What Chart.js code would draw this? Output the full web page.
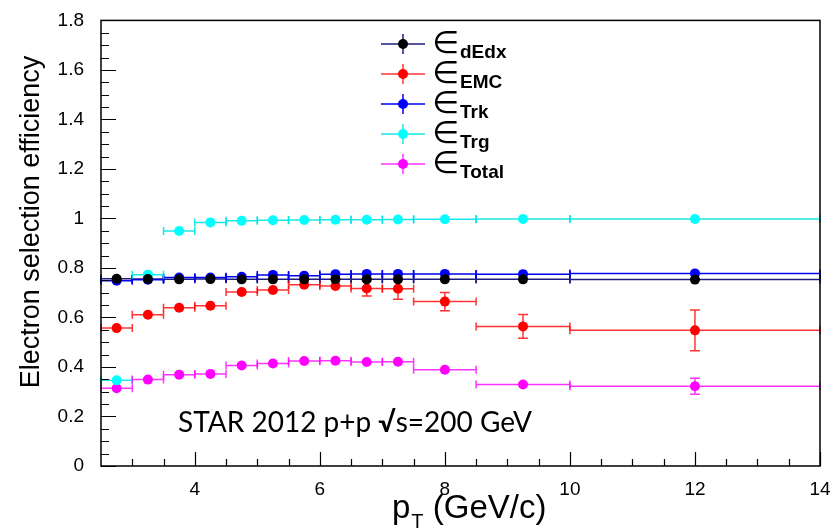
<!DOCTYPE html>
<html lang="en">
<head>
    <meta charset="UTF-8">
    <title>Electron selection efficiency</title>
    <script src="https://cdn.jsdelivr.net/npm/chart.js"></script>
    <style>
        body { margin: 0; background: white; }
        #effChart { display: block; }
    </style>
</head>
<body>
    <canvas id="effChart" width="840" height="531"></canvas>

    <script>
        // pT bins (GeV/c)
        const ptCenter = [2.75, 3.25, 3.75, 4.25, 4.75, 5.25, 5.75, 6.25, 6.75, 7.25, 8, 9.25, 12];
        const ptLow    = [2.5, 3, 3.5, 4, 4.5, 5, 5.5, 6, 6.5, 7, 7.5, 8.5, 10];
        const ptHigh   = [3, 3.5, 4, 4.5, 5, 5.5, 6, 6.5, 7, 7.5, 8.5, 10, 14];

        // efficiencies
        const effDedx  = [0.756, 0.755, 0.754, 0.755, 0.754, 0.754, 0.754, 0.754, 0.754, 0.754, 0.754, 0.754, 0.753];
        const errDedx  = [0.003, 0.003, 0.003, 0.003, 0.003, 0.003, 0.003, 0.003, 0.003, 0.003, 0.003, 0.003, 0.003];
        const effEmc   = [0.557, 0.611, 0.639, 0.647, 0.703, 0.711, 0.732, 0.727, 0.717, 0.716, 0.664, 0.564, 0.548];
        const errEmc   = [0.005, 0.005, 0.006, 0.007, 0.008, 0.010, 0.019, 0.022, 0.030, 0.042, 0.037, 0.048, 0.082];
        const effTrk   = [0.748, 0.752, 0.761, 0.761, 0.764, 0.772, 0.769, 0.775, 0.776, 0.776, 0.776, 0.775, 0.778];
        const errTrk   = [0.002, 0.002, 0.002, 0.002, 0.002, 0.002, 0.002, 0.002, 0.002, 0.002, 0.002, 0.002, 0.002];
        const effTrg   = [0.346, 0.773, 0.949, 0.984, 0.991, 0.993, 0.994, 0.995, 0.995, 0.996, 0.997, 0.998, 0.998];
        const errTrg   = [0.003, 0.003, 0.003, 0.002, 0.002, 0.002, 0.002, 0.002, 0.002, 0.002, 0.002, 0.002, 0.002];
        const effTotal = [0.314, 0.349, 0.369, 0.372, 0.406, 0.414, 0.424, 0.425, 0.420, 0.421, 0.389, 0.329, 0.322];
        const errTotal = [0.004, 0.004, 0.005, 0.005, 0.006, 0.007, 0.009, 0.010, 0.013, 0.016, 0.014, 0.020, 0.032];

        const xTicks = [4, 6, 8, 10, 12, 14];
        const yTicks = [0, 0.2, 0.4, 0.6, 0.8, 1, 1.2, 1.4, 1.6, 1.8];

        const series = [
            { name: 'dEdx',  values: effDedx,  errors: errDedx,  marker: '#000000', line: '#1c1c80' },
            { name: 'EMC',   values: effEmc,   errors: errEmc,   marker: '#ff0000', line: 'rgba(255,0,0,0.8)' },
            { name: 'Trk',   values: effTrk,   errors: errTrk,   marker: '#0000ff', line: '#0000ee' },
            { name: 'Trg',   values: effTrg,   errors: errTrg,   marker: '#00ffff', line: 'rgba(0,230,230,0.9)' },
            { name: 'Total', values: effTotal, errors: errTotal, marker: '#ff00ff', line: 'rgba(255,0,255,0.8)' }
        ];

        const markerRadius = 5;

        // ROOT-like error bars, frame, inward ticks, titles and legend
        const rootStyle = {
            id: 'rootStyle',
            beforeDatasetsDraw(chart) {
                const ctx = chart.ctx;
                const xs = chart.scales.x, ys = chart.scales.y;
                ctx.save();
                ctx.lineWidth = 1.5;
                series.forEach(s => {
                    ctx.strokeStyle = s.line;
                    ptCenter.forEach((pt, i) => {
                        const x0 = xs.getPixelForValue(ptLow[i]);
                        const x1 = xs.getPixelForValue(ptHigh[i]);
                        const xc = xs.getPixelForValue(pt);
                        const yc = ys.getPixelForValue(s.values[i]);
                        ctx.beginPath();
                        ctx.moveTo(x0, yc); ctx.lineTo(x1, yc);
                        ctx.moveTo(x0, yc - 4); ctx.lineTo(x0, yc + 4);
                        ctx.moveTo(x1, yc - 4); ctx.lineTo(x1, yc + 4);
                        ctx.stroke();
                        const yTop = ys.getPixelForValue(s.values[i] + s.errors[i]);
                        const yBot = ys.getPixelForValue(s.values[i] - s.errors[i]);
                        if (yBot - yc > markerRadius + 1) {
                            ctx.beginPath();
                            ctx.moveTo(xc, yTop); ctx.lineTo(xc, yBot);
                            ctx.moveTo(xc - 5, yTop); ctx.lineTo(xc + 5, yTop);
                            ctx.moveTo(xc - 5, yBot); ctx.lineTo(xc + 5, yBot);
                            ctx.stroke();
                        }
                    });
                });
                ctx.restore();
            },
            afterDraw(chart) {
                const ctx = chart.ctx;
                const a = chart.chartArea;
                const xs = chart.scales.x, ys = chart.scales.y;
                ctx.save();

                // frame
                ctx.strokeStyle = '#000';
                ctx.lineWidth = 1.5;
                ctx.strokeRect(a.left, a.top, a.right - a.left, a.bottom - a.top);

                // inward ticks
                ctx.lineWidth = 1.2;
                ctx.beginPath();
                for (let v = 0; v <= 1.8001; v += 0.05) {
                    const y = Math.round(ys.getPixelForValue(v)) + 0.5;
                    const major = Math.abs(v / 0.2 - Math.round(v / 0.2)) < 1e-6;
                    ctx.moveTo(a.left, y); ctx.lineTo(a.left + (major ? 15 : 8), y);
                }
                for (let v = 3; v <= 14.001; v += 0.5) {
                    const x = Math.round(xs.getPixelForValue(v)) + 0.5;
                    const major = Math.abs(v / 2 - Math.round(v / 2)) < 1e-6;
                    ctx.moveTo(x, a.bottom); ctx.lineTo(x, a.bottom - (major ? 14 : 7));
                }
                ctx.stroke();

                // axis titles
                ctx.fillStyle = '#000';
                ctx.save();
                ctx.translate(39, 222);
                ctx.rotate(-Math.PI / 2);
                ctx.textAlign = 'center';
                ctx.textBaseline = 'alphabetic';
                ctx.font = '27px "Liberation Sans"';
                ctx.fillText('Electron selection efficiency', 0, 0);
                ctx.restore();

                ctx.textAlign = 'left';
                ctx.textBaseline = 'alphabetic';
                ctx.font = '33px "Liberation Sans"';
                let tx = 392;
                ctx.fillText('p', tx, 518);
                tx += ctx.measureText('p').width + 1;
                ctx.font = '20px "Liberation Sans"';
                ctx.fillText('T', tx, 528);
                tx += ctx.measureText('T').width;
                ctx.font = '33px "Liberation Sans"';
                ctx.fillText(' (GeV/c)', tx, 518);

                // STAR label
                let sx = 178;
                ctx.font = '28px Lato';
                ctx.fillText('STAR 2012 p+p ', sx, 432);
                sx += ctx.measureText('STAR 2012 p+p ').width;
                ctx.font = 'bold 28px Lato';
                ctx.fillText('\u221A', sx, 432);
                sx += ctx.measureText('\u221A').width;
                ctx.font = '28px Lato';
                ctx.fillText('s=200 GeV', sx, 432);

                // legend
                series.forEach((s, i) => {
                    const y = 44 + i * 30;
                    ctx.strokeStyle = s.line;
                    ctx.lineWidth = 1.5;
                    ctx.beginPath();
                    ctx.moveTo(381, y); ctx.lineTo(425, y);
                    ctx.moveTo(403, y - 10); ctx.lineTo(403, y + 10);
                    ctx.stroke();
                    ctx.fillStyle = s.marker;
                    ctx.beginPath();
                    ctx.arc(403, y, markerRadius, 0, Math.PI * 2);
                    ctx.fill();
                    ctx.fillStyle = '#000';
                    ctx.font = '31px "DejaVu Sans"';
                    ctx.fillText('\u2208', 432, y + 9);
                    ctx.font = 'bold 19px "Liberation Sans"';
                    ctx.fillText(s.name, 460, y + 14);
                });

                ctx.restore();
            }
        };

        const datasets = series.map(s => ({
            label: s.name,
            data: ptCenter.map((pt, i) => ({ x: pt, y: s.values[i] })),
            showLine: false,
            pointRadius: markerRadius,
            pointHoverRadius: markerRadius,
            pointBackgroundColor: s.marker,
            pointBorderWidth: 0,
            borderColor: s.marker
        }));

        new Chart(document.getElementById('effChart'), {
            type: 'scatter',
            data: { datasets: datasets },
            options: {
                responsive: false,
                animation: false,
                devicePixelRatio: 1,
                layout: { padding: { left: 0, right: 20, top: 15, bottom: 0 } },
                plugins: { legend: { display: false }, tooltip: { enabled: false } },
                scales: {
                    x: {
                        type: 'linear',
                        min: 2.5,
                        max: 14,
                        grid: { display: false },
                        border: { display: false },
                        afterBuildTicks: scale => { scale.ticks = xTicks.map(v => ({ value: v })); },
                        afterFit: scale => { scale.height = 65; },
                        ticks: {
                            padding: 4,
                            color: '#000',
                            maxRotation: 0,
                            font: { family: 'Liberation Sans', size: 19 },
                            callback: v => String(v)
                        }
                    },
                    y: {
                        type: 'linear',
                        min: 0,
                        max: 1.8,
                        grid: { display: false },
                        border: { display: false },
                        afterBuildTicks: scale => { scale.ticks = yTicks.map(v => ({ value: v })); },
                        afterFit: scale => { scale.width = 101; },
                        ticks: {
                            padding: 9,
                            color: '#000',
                            font: { family: 'Liberation Sans', size: 19 },
                            callback: v => String(+v.toFixed(1))
                        }
                    }
                }
            },
            plugins: [rootStyle]
        });
    </script>
</body>
</html>
